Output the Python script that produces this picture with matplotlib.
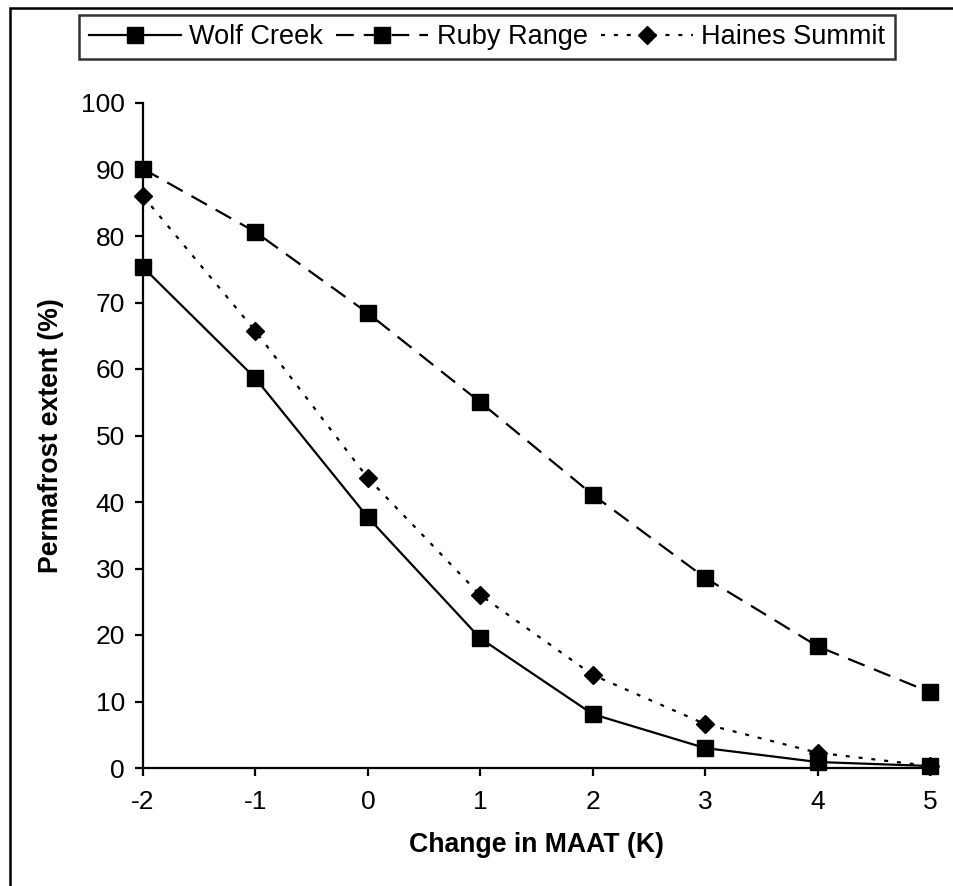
import matplotlib.pyplot as plt
from matplotlib.patches import Rectangle

plt.rcParams['font.family'] = ['Liberation Sans', 'DejaVu Sans']
plt.rcParams['axes.unicode_minus'] = False

maat_change = [-2, -1, 0, 1, 2, 3, 4, 5]
wolf_creek = [75.3, 58.6, 37.7, 19.5, 8.1, 3.0, 0.9, 0.3]
ruby_range = [90.1, 80.6, 68.4, 55.0, 41.1, 28.6, 18.3, 11.4]
haines_summit = [86.0, 65.7, 43.6, 26.0, 14.0, 6.6, 2.3, 0.3]

fig = plt.figure(figsize=(9.54, 8.86), dpi=100)
ax = fig.add_axes([143 / 954, 1 - 768 / 886, (930 - 143) / 954, (768 - 103) / 886])

ax.plot(maat_change, wolf_creek, color='black', lw=1.6, marker='s', ms=11.5,
        label='Wolf Creek', clip_on=False, zorder=3)
ax.plot(maat_change, ruby_range, color='black', lw=1.6, marker='s', ms=11.5,
        dashes=(8, 4.5), label='Ruby Range', clip_on=False, zorder=3)
ax.plot(maat_change, haines_summit, color='black', lw=1.6, marker='D', ms=9,
        dashes=(1.8, 4), label='Haines Summit', clip_on=False, zorder=3)

ax.set_xlim(-2, 5)
ax.set_ylim(0, 100)
ax.set_xticks(maat_change)
ax.set_yticks(range(0, 101, 10))
ax.spines['top'].set_visible(False)
ax.spines['right'].set_visible(False)
for s in ('left', 'bottom'):
    ax.spines[s].set_linewidth(1.6)
ax.tick_params(axis='both', direction='out', length=6, width=1.6, labelsize=19)
ax.tick_params(axis='y', pad=7)
ax.tick_params(axis='x', pad=10)

ax.set_xlabel('Change in MAAT (K)', fontsize=19.2, fontweight='bold', labelpad=13)
ax.set_ylabel('Permafrost extent (%)', fontsize=19.2, fontweight='bold', labelpad=12)

leg = fig.legend(loc='center', bbox_to_anchor=(487 / 954, 1 - 37 / 886), ncol=3,
                 fontsize=19.5, frameon=True, fancybox=False, edgecolor='black',
                 handlelength=3.4, handletextpad=0.3, columnspacing=0.5,
                 borderpad=0.35, borderaxespad=0)
leg.get_frame().set_linewidth(1.8)

# outer frame around the whole figure
fig.patches.append(Rectangle((10 / 954, -0.01), 1.0, 1 - 8 / 886 + 0.01,
                             transform=fig.transFigure, fill=False,
                             edgecolor='black', lw=1.8))

fig.savefig('out.png', dpi=100)
